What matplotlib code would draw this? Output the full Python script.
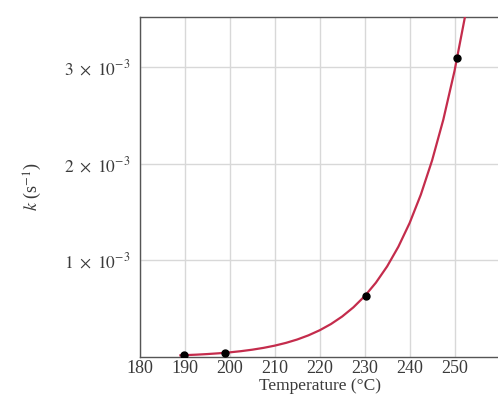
import matplotlib
matplotlib.use("Agg")
import matplotlib.pyplot as plt

# measured data points (Temperature °C, k in s^-1)
temps = [189.8, 198.9, 230.3, 250.6]
k_vals = [2.0e-5, 4.5e-5, 6.3e-4, 3.10e-3]

# fitted curve
curve_T = [189, 192.5, 195, 197.5, 200, 202.5, 205, 207.5, 210, 212.5, 215, 217.5,
           220, 222.5, 225, 227.5, 230, 232.5, 235, 237.5, 240, 242.5, 245, 247.5,
           250, 252.5]
curve_k = [0.0173e-3, 0.0241e-3, 0.0305e-3, 0.0384e-3, 0.0483e-3, 0.0606e-3,
           0.0758e-3, 0.0946e-3, 0.1178e-3, 0.1464e-3, 0.1814e-3, 0.2245e-3,
           0.2771e-3, 0.3413e-3, 0.4195e-3, 0.5146e-3, 0.63e-3, 0.7697e-3,
           0.9385e-3, 1.1421e-3, 1.3871e-3, 1.6818e-3, 2.0352e-3, 2.4580e-3,
           2.9638e-3, 3.5669e-3]

x_ticks = [180, 190, 200, 210, 220, 230, 240, 250]
y_ticks = [1e-3, 2e-3, 3e-3]
y_tick_labels = [r"$1\ \times\ 10^{-3}$", r"$2\ \times\ 10^{-3}$", r"$3\ \times\ 10^{-3}$"]

plt.rcParams['font.family'] = ['Liberation Serif', 'DejaVu Serif']
plt.rcParams['mathtext.fontset'] = 'stix'

fig = plt.figure(figsize=(4.98, 3.98), dpi=100)
ax = fig.add_axes([0.281, 0.103, 0.722, 0.854])

ax.plot(curve_T, curve_k, color='#c42c4c', lw=1.6, zorder=3)
ax.plot(temps, k_vals, 'o', color='black', ms=5, zorder=4)

ax.set_xlim(180, 259.6)
ax.set_ylim(0, 3.52e-3)
ax.set_xticks(x_ticks)
ax.set_yticks(y_ticks)
ax.set_yticklabels(y_tick_labels)
ax.set_xticks([260], minor=True)
ax.tick_params(length=0, labelsize=13, colors='#3a3a3a', pad=2)
ax.tick_params(axis='y', labelsize=12.5, pad=7)
ax.grid(True, color='#d8d8d8', lw=1.0)
ax.grid(True, which='minor', axis='x', color='#d8d8d8', lw=1.0)
ax.set_axisbelow(True)
for s in ax.spines.values():
    s.set_color('#555555')
    s.set_linewidth(1.0)
ax.spines['right'].set_visible(False)

ax.set_xlabel("Temperature (°C)", fontsize=12.5, color='#3a3a3a', labelpad=1)
ax.set_ylabel(r"$k$ (s$^{-1}$)", fontsize=13, color='#3a3a3a', labelpad=14)

fig.savefig("out.png", dpi=100)
